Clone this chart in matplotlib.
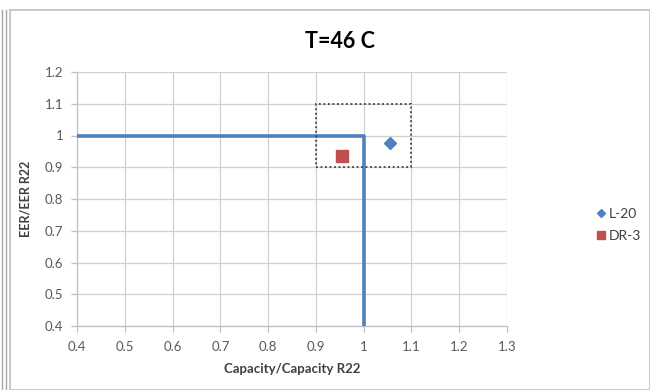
import matplotlib
matplotlib.use("Agg")
import matplotlib.pyplot as plt
from matplotlib.patches import Rectangle
from matplotlib.lines import Line2D

plt.rcParams['font.family'] = ['Lato', 'DejaVu Sans']

# Data
series_names = ["L-20", "DR-3"]
cap_ratio = [1.055, 0.955]
eer_ratio = [0.975, 0.935]
colors = ["#4F81BD", "#C0504D"]
markers = ["D", "s"]
marker_sizes = [6, 8]

boundary_x = [0.4, 1.0, 1.0]
boundary_y = [1.0, 1.0, 0.4]

box_x = [0.9, 1.1]
box_y = [0.9, 1.1]

xticks = [0.4, 0.5, 0.6, 0.7, 0.8, 0.9, 1.0, 1.1, 1.2, 1.3]
xticklabels = ["0.4", "0.5", "0.6", "0.7", "0.8", "0.9", "1", "1.1", "1.2", "1.3"]
yticks = [0.4, 0.5, 0.6, 0.7, 0.8, 0.9, 1.0, 1.1, 1.2]
yticklabels = ["0.4", "0.5", "0.6", "0.7", "0.8", "0.9", "1", "1.1", "1.2"]

fig = plt.figure(figsize=(6.5, 3.9), dpi=100)
fig.patch.set_facecolor("white")

# Outer chart frame and left double line
fig.add_artist(Rectangle((10/650, 0.0), 640/650, 380/390, transform=fig.transFigure,
                         fill=False, edgecolor="#BFBFBF", linewidth=1.2))
fig.add_artist(Line2D([2/650, 2/650], [0, 380/390], transform=fig.transFigure, color="#A6A6A6", lw=1))
fig.add_artist(Line2D([6/650, 6/650], [0, 380/390], transform=fig.transFigure, color="#A6A6A6", lw=1))

ax = fig.add_axes([77/650, 1 - 326/390, 430/650, 254/390])
ax.set_xlim(0.4, 1.3)
ax.set_ylim(0.4, 1.2)
ax.set_xticks(xticks)
ax.set_xticklabels(xticklabels)
ax.set_yticks(yticks)
ax.set_yticklabels(yticklabels)
ax.grid(True, color="#D0D0D0", linewidth=0.9)
ax.set_axisbelow(True)
for s in ["top", "right"]:
    ax.spines[s].set_visible(False)
for s in ["left", "bottom"]:
    ax.spines[s].set_color("#BFBFBF")
    ax.spines[s].set_linewidth(0.9)
ax.tick_params(axis="both", colors="#BFBFBF", labelcolor="#595959", labelsize=9.5,
               direction="out", length=4, width=0.9)
ax.tick_params(axis="x", pad=7)
ax.tick_params(axis="y", pad=6)

ax.plot(boundary_x, boundary_y, color="#4F81BD", linewidth=2.6, solid_capstyle="butt", zorder=3)
ax.add_patch(Rectangle((box_x[0], box_y[0]), box_x[1] - box_x[0], box_y[1] - box_y[0],
                       fill=False, edgecolor="#404040", linestyle=(0, (1, 1.5)), linewidth=1.3, zorder=3))

handles = []
for name, x, y, c, m, ms in zip(series_names, cap_ratio, eer_ratio, colors, markers, marker_sizes):
    h, = ax.plot([x], [y], linestyle="none", marker=m, color=c, markersize=ms, label=name, zorder=4)
    handles.append(h)

ax.set_xlabel("Capacity/Capacity R22", fontsize=9.5, fontweight="bold", color="#404040", labelpad=7)
ax.set_ylabel("EER/EER R22", fontsize=9, fontweight="bold", color="#404040")
ax.yaxis.set_label_coords(-0.105, 0.5)

fig.text(340/650, 1 - 42/390, "T=46 C", ha="center", va="center", fontsize=15.5, fontweight="bold", color="#000000")

leg = fig.legend(handles=handles, labels=series_names, loc="center left",
                 bbox_to_anchor=(585/650, 1 - 225/390), frameon=False, fontsize=10,
                 handlelength=0.5, handletextpad=0.3, labelspacing=0.7, markerscale=0.7)
for t in leg.get_texts():
    t.set_color("#404040")

fig.savefig("out.png", dpi=100, facecolor="white")
